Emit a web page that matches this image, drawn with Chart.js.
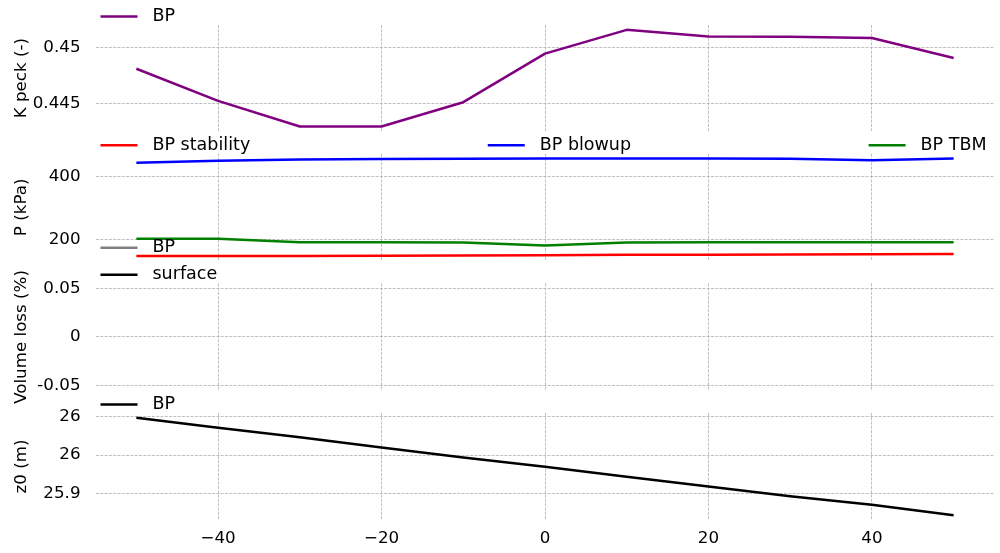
<!DOCTYPE html>
<html>
<head>
<meta charset="utf-8">
<script src="https://cdn.jsdelivr.net/npm/chart.js@4.4.0/dist/chart.umd.min.js"></script>
<style>
    html, body { margin: 0; padding: 0; background: #fff; }
    #wrap { position: relative; width: 1000px; height: 553px; }
    #wrap canvas { position: absolute; left: 0; top: 0; }
</style>
</head>
<body>
<div id="wrap">
    <canvas id="chartK" width="1000" height="553"></canvas>
    <canvas id="chartP" width="1000" height="553"></canvas>
    <canvas id="chartV" width="1000" height="553"></canvas>
    <canvas id="chartZ" width="1000" height="553"></canvas>
</div>
<script>
// chainage along the alignment
const chainage = [-50, -40, -30, -20, -10, 0, 10, 20, 30, 40, 50];

// K peck (-)
const kPeckBP = [0.44810, 0.44524, 0.44295, 0.44295, 0.44512, 0.44944, 0.45156, 0.45097, 0.45094, 0.45083, 0.44906];

// P (kPa)
const pStability = [148, 148, 148.5, 149, 150, 151, 152, 152.5, 153, 154, 155];
const pBlowup = [445, 451.6, 456, 457.5, 458, 458.5, 458.6, 458.6, 458, 453, 458.6];
const pTBM = [203, 203, 192, 192, 191, 182, 191, 192, 192, 192, 192];

// z0 (m)
const z0BP = [25.9983, 25.9855, 25.973, 25.960, 25.947, 25.935, 25.922, 25.9094, 25.897, 25.8859, 25.8722];

// tick positions and labels
const xTicks = [-40, -20, 0, 20, 40];
const xTickLabels = ['\u221240', '\u221220', '0', '20', '40'];
const kTicks = [0.445, 0.45];
const kTickLabels = ['0.445', '0.45'];
const pTicks = [200, 400];
const pTickLabels = ['200', '400'];
const vTicks = [-0.05, 0, 0.05];
const vTickLabels = ['-0.05', '0', '0.05'];
const zTicks = [25.9, 25.95, 26.0];
const zTickLabels = ['25.9', '26', '26'];

const FONT = 'DejaVu Sans';
const gridColor = '#b0b0b0';

// matplotlib style 5% margins
function padRange(arrays) {
    const all = [].concat(...arrays);
    if (!all.length) return [-0.055, 0.055];
    const lo = Math.min(...all), hi = Math.max(...all);
    const m = (hi - lo) * 0.05;
    return [lo - m, hi + m];
}
const xRange = padRange([chainage]);

function series(values) {
    return chainage.map((x, i) => ({ x: x, y: values[i] }));
}

// legend drawn like matplotlib's mode="expand" above each axes
const lineLegend = {
    id: 'lineLegend',
    afterDraw(chart, args, opts) {
        const ctx = chart.ctx;
        const area = chart.chartArea;
        const items = chart.data.datasets.map(d => ({ label: d.label, color: d.borderColor }));
        const handle = 37, textPad = 15, rowStep = 27;
        ctx.save();
        ctx.font = '17.5px "' + FONT + '"';
        const widths = items.map(it => handle + textPad + ctx.measureText(it.label).width);
        const ncol = opts.ncol || 1;
        const rows = Math.ceil(items.length / ncol);
        const x0 = area.left + 5, x1 = area.right - 8;
        let gap = 0;
        if (ncol > 1) {
            gap = (x1 - x0 - widths.slice(0, ncol).reduce((a, b) => a + b, 0)) / (ncol - 1);
        }
        items.forEach(function (it, i) {
            const col = i % ncol, row = Math.floor(i / ncol);
            let x = x0;
            for (let c = 0; c < col; c++) x += widths[c] + gap;
            const y = area.top - 8.5 - (rows - 1 - row) * rowStep;
            ctx.strokeStyle = it.color;
            ctx.lineWidth = 2.5;
            ctx.beginPath();
            ctx.moveTo(x, y);
            ctx.lineTo(x + handle, y);
            ctx.stroke();
            ctx.fillStyle = '#000';
            ctx.textBaseline = 'middle';
            ctx.textAlign = 'left';
            ctx.fillText(it.label, x + handle + textPad, y);
        });
        ctx.restore();
    }
};

function makePanel(id, cfg) {
    const yRange = padRange(cfg.datasets.map(d => d.data.map(p => p.y)));
    const showX = !!cfg.showX;
    return new Chart(document.getElementById(id), {
        type: 'line',
        data: {
            datasets: cfg.datasets.map(d => Object.assign({
                borderWidth: 2.5,
                pointRadius: 0,
                tension: 0,
                fill: false,
                borderJoinStyle: 'round'
            }, d))
        },
        options: {
            responsive: false,
            animation: false,
            events: [],
            layout: {
                padding: { top: cfg.top, bottom: showX ? 0 : 553 - cfg.bottom, left: 0, right: 5.5 }
            },
            plugins: {
                legend: { display: false },
                tooltip: { enabled: false },
                lineLegend: { ncol: cfg.ncol || 1 }
            },
            scales: {
                x: {
                    type: 'linear',
                    min: xRange[0],
                    max: xRange[1],
                    afterBuildTicks: axis => { axis.ticks = xTicks.map(v => ({ value: v })); },
                    afterFit: axis => { axis.height = showX ? 553 - cfg.bottom : 0; },
                    ticks: {
                        display: showX,
                        padding: 8,
                        maxRotation: 0,
                        color: '#000',
                        font: { family: FONT, size: 16.7 },
                        callback: (v, i) => xTickLabels[i]
                    },
                    grid: { color: gridColor, lineWidth: 0.8, drawTicks: false },
                    border: { display: false, dash: [3, 1.3] }
                },
                y: {
                    type: 'linear',
                    min: yRange[0],
                    max: yRange[1],
                    afterBuildTicks: axis => { axis.ticks = cfg.ticks.map(v => ({ value: v })); },
                    afterFit: axis => { axis.width = 95.5; },
                    ticks: {
                        padding: 15,
                        color: '#000',
                        font: { family: FONT, size: 16.7 },
                        callback: (v, i) => cfg.tickLabels[i]
                    },
                    grid: { color: gridColor, lineWidth: 0.8, drawTicks: false },
                    border: { display: false, dash: [3, 1.3] },
                    title: {
                        display: true,
                        text: cfg.title,
                        color: '#000',
                        font: { family: FONT, size: 16.7 },
                        padding: { top: 12, bottom: 0 }
                    }
                }
            }
        },
        plugins: [lineLegend]
    });
}

makePanel('chartK', {
    top: 24.1, bottom: 131.4,
    title: 'K peck (-)',
    ticks: kTicks, tickLabels: kTickLabels,
    datasets: [
        { label: 'BP', data: series(kPeckBP), borderColor: '#800080' }
    ]
});

makePanel('chartP', {
    top: 153.7, bottom: 261.0, ncol: 3,
    title: 'P (kPa)',
    ticks: pTicks, tickLabels: pTickLabels,
    datasets: [
        { label: 'BP stability', data: series(pStability), borderColor: '#ff0000' },
        { label: 'BP blowup', data: series(pBlowup), borderColor: '#0000ff' },
        { label: 'BP TBM', data: series(pTBM), borderColor: '#008000' }
    ]
});

makePanel('chartV', {
    top: 283.3, bottom: 390.6,
    title: 'Volume loss (%)',
    ticks: vTicks, tickLabels: vTickLabels,
    datasets: [
        { label: 'BP', data: [], borderColor: '#808080' },
        { label: 'surface', data: [], borderColor: '#000000' }
    ]
});

makePanel('chartZ', {
    top: 412.9, bottom: 520.2, showX: true,
    title: 'z0 (m)',
    ticks: zTicks, tickLabels: zTickLabels,
    datasets: [
        { label: 'BP', data: series(z0BP), borderColor: '#000000' }
    ]
});
</script>
</body>
</html>
